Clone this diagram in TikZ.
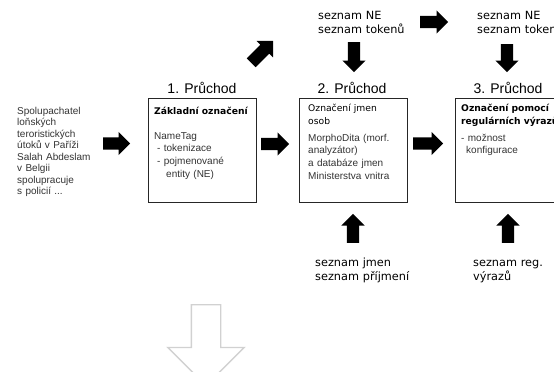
\documentclass[tikz,border=0pt]{standalone}
\usepackage{fontspec}
\setmainfont{Liberation Sans}
\newfontfamily\dv{DejaVu Sans}
\usetikzlibrary{shapes.arrows}
\begin{document}
\begin{tikzpicture}[x=1pt,y=-1pt,
  box/.style={draw=black!85, line width=0.9pt, minimum width=108pt, minimum height=104pt, anchor=north west, inner sep=0pt},
  blk/.style={single arrow, fill=black, draw=none, inner xsep=0pt, inner ysep=6pt, single arrow head extend=5.5pt, anchor=tail},
  hollow/.style={single arrow, draw=black!18, line width=1.4pt, fill=none, inner xsep=0pt, inner ysep=14pt, single arrow head extend=23.5pt, anchor=tail},
  pass/.style={font=\fontsize{14}{16}\selectfont, anchor=base, inner sep=0pt},
  head/.style={font=\dv\bfseries\fontsize{9.2}{13}\selectfont, anchor=base west, inner sep=0pt, text width=104pt, align=left},
  headr/.style={font=\dv\fontsize{9.2}{13}\selectfont, anchor=base west, inner sep=0pt, text width=100pt, align=left},
  body/.style={font=\fontsize{10}{12.7}\selectfont, text=black!80, anchor=base west, inner sep=0pt, text width=104pt, align=left},
  lbl/.style={font=\dv\fontsize{11.3}{14}\selectfont, anchor=base west, inner sep=0pt, text width=110pt, align=left},
  src/.style={font=\fontsize{10}{11.43}\selectfont, text=black!80, anchor=base west, inner sep=0pt, text width=110pt, align=left}
]
\path[use as bounding box] (0,0) rectangle (554,372);
\clip (0,0) rectangle (554,372);

% source text
\node[src] (src) at (17,114.5) {Spolupachatel\\loňských\\teroristických\\útoků v Paříži\\Salah Abdeslam\\v Belgii\\spolupracuje\\s policií ...};

% boxes
\node[box] (b1) at (148,98) {};
\node[box] (b2) at (299,98) {};
\node[box] (b3) at (455,98) {};

% pass titles
\node[pass] (p1) at (202,93) {1. Průchod};
\node[pass] (p2) at (352,93) {2. Průchod};
\node[pass] (p3) at (508,93) {3. Průchod};

% box contents
\node[head] (h1) at (154,114.5) {Základní označení};
\node[body] (t1) at (154,139) {NameTag\\\hspace{3pt}- tokenizace\\\hspace{3pt}- pojmenované\\\hspace{12pt}entity (NE)};

\node[headr] (h2) at (308,111.5) {Označení jmen\\osob};
\node[body] (t2) at (308,141) {MorphoDita (morf.\\analyzátor)\\a databáze jmen\\Ministerstva vnitra};

\node[head] (h3) at (461,111.5) {Označení pomocí\\regulárních výrazů};
\node[body] (t3) at (461,141) {- možnost\\\hspace{5pt}konfigurace};

% lists
\node[lbl] (l1) at (318,19.5) {seznam NE\\seznam tokenů};
\node[lbl] (l2) at (477,19.5) {seznam NE\\seznam tokenů};
\node[lbl] (l3) at (315,266) {seznam jmen\\seznam příjmení};
\node[lbl] (l4) at (473,266) {seznam reg.\\výrazů};

% black block arrows
\node[blk, minimum height=27pt] (a0) at (103,143.5) {};
\node[blk, minimum height=28pt] (a12) at (261,144) {};
\node[blk, minimum height=30pt] (a23) at (413,143.5) {};
\node[blk, minimum height=28pt] (atop) at (420,22) {};
\node[blk, minimum height=30pt, rotate=-90] (ad2) at (354,42) {};
\node[blk, minimum height=28pt, rotate=-90] (ad3) at (507,44) {};
\node[blk, minimum height=29pt, rotate=90] (au2) at (353,243) {};
\node[blk, minimum height=29pt, rotate=90] (au3) at (508,243) {};
\node[blk, minimum height=31pt, rotate=45] (adg) at (251,63) {};

% hollow grey arrow
\node[hollow, minimum height=81pt, rotate=-90] (ag) at (206,304) {};
\end{tikzpicture}
\end{document}
